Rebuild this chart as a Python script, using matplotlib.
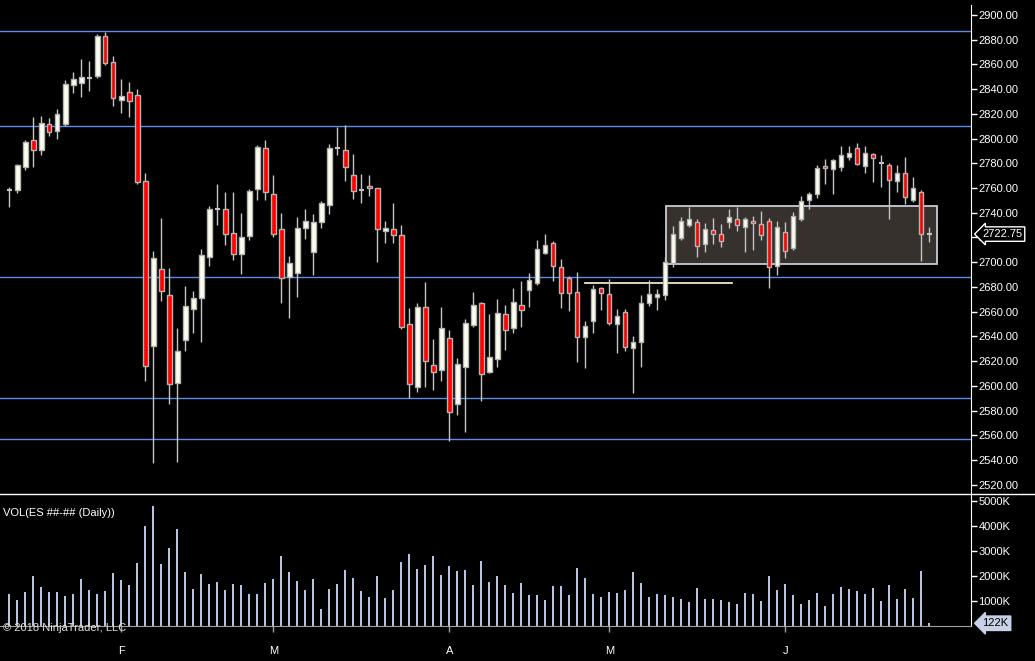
import numpy as np
import matplotlib
matplotlib.use("Agg")
import matplotlib.pyplot as plt
from matplotlib.patches import Rectangle
from matplotlib.lines import Line2D

plt.rcParams['font.family'] = ['Liberation Sans', 'DejaVu Sans']

# daily ES bars (Jan 11 .. Jun 22 2018)
opens = [2758.25, 2758.75, 2777.25, 2798.5, 2791.0, 2811.5, 2806.0, 2811.75, 2843.5, 2845.25,
         2849.0, 2851.0, 2883.0, 2861.75, 2831.5, 2837.5, 2835.0, 2765.5, 2632.5, 2694.25,
         2673.25, 2602.5, 2636.75, 2662.0, 2671.25, 2704.0, 2743.25, 2742.75, 2723.5, 2707.0,
         2721.5, 2759.5, 2792.25, 2755.0, 2726.5, 2687.75, 2691.5, 2727.5, 2708.5, 2732.25,
         2746.0, 2792.5, 2790.5, 2770.25, 2758.75, 2761.5, 2759.75, 2725.0, 2726.5, 2721.75,
         2649.75, 2598.75, 2663.5, 2616.5, 2613.0, 2638.5, 2585.0, 2615.5, 2649.5, 2666.75,
         2611.0, 2621.5, 2657.75, 2646.5, 2665.0, 2677.25, 2683.0, 2707.75, 2715.25, 2696.0,
         2687.0, 2675.5, 2639.25, 2652.25, 2679.0, 2674.0, 2649.75, 2659.5, 2630.25, 2635.25,
         2666.75, 2671.5, 2673.25, 2699.5, 2719.75, 2730.25, 2732.25, 2715.0, 2725.75, 2722.5,
         2732.25, 2734.75, 2728.25, 2733.0, 2730.75, 2733.0, 2696.75, 2724.25, 2711.25, 2734.75,
         2750.0, 2755.0, 2777.5, 2775.25, 2776.75, 2785.0, 2792.25, 2777.5, 2787.25, 2780.0,
         2778.5, 2765.5, 2772.0, 2750.0, 2756.5, 2722.75]
highs = [2761.0, 2779.5, 2799.0, 2817.5, 2818.0, 2816.75, 2824.0, 2847.25, 2854.0, 2864.5,
         2862.75, 2884.5, 2886.5, 2866.75, 2848.25, 2845.75, 2840.0, 2772.25, 2709.0, 2735.75,
         2695.25, 2646.75, 2680.75, 2676.75, 2710.75, 2745.5, 2763.25, 2756.75, 2756.75, 2739.75,
         2759.25, 2794.75, 2799.0, 2770.5, 2739.75, 2705.0, 2736.5, 2743.0, 2739.0, 2749.5,
         2795.5, 2809.5, 2811.0, 2787.25, 2771.0, 2770.25, 2759.75, 2733.25, 2748.0, 2730.0,
         2663.0, 2666.75, 2684.0, 2638.0, 2663.5, 2645.0, 2622.5, 2654.0, 2676.0, 2667.5,
         2658.0, 2670.25, 2665.5, 2679.0, 2684.75, 2691.25, 2717.75, 2722.75, 2717.0, 2702.25,
         2688.5, 2691.75, 2652.25, 2681.25, 2679.75, 2686.25, 2662.0, 2662.0, 2640.0, 2673.25,
         2685.5, 2678.25, 2704.5, 2729.25, 2736.5, 2744.75, 2734.75, 2731.5, 2735.5, 2731.0,
         2742.75, 2744.75, 2736.25, 2737.0, 2741.25, 2735.5, 2733.0, 2732.25, 2740.5, 2753.25,
         2756.5, 2778.5, 2783.25, 2783.5, 2793.75, 2793.75, 2796.25, 2793.75, 2788.0, 2786.5,
         2780.0, 2778.5, 2785.0, 2768.75, 2758.25, 2728.25]
lows = [2745.0, 2756.25, 2774.75, 2777.0, 2787.0, 2802.25, 2800.0, 2810.25, 2837.0, 2833.75,
        2838.75, 2849.25, 2859.75, 2826.5, 2820.75, 2817.5, 2763.5, 2604.0, 2537.75, 2668.5,
        2585.5, 2538.5, 2628.5, 2643.0, 2635.75, 2697.25, 2730.25, 2714.25, 2702.0, 2690.75,
        2718.25, 2750.5, 2750.5, 2720.5, 2667.25, 2655.0, 2672.0, 2719.0, 2690.0, 2728.0,
        2739.25, 2787.0, 2766.0, 2751.5, 2748.0, 2753.75, 2700.5, 2715.75, 2715.75, 2645.75,
        2590.0, 2594.75, 2599.25, 2596.75, 2604.0, 2555.5, 2576.5, 2563.0, 2647.75, 2588.0,
        2610.0, 2615.5, 2629.25, 2643.0, 2647.75, 2664.0, 2681.75, 2707.0, 2685.0, 2663.25,
        2660.75, 2619.5, 2614.5, 2643.0, 2661.5, 2649.0, 2626.75, 2628.0, 2594.5, 2615.5,
        2664.75, 2661.25, 2669.75, 2696.5, 2718.0, 2728.25, 2704.0, 2708.0, 2714.5, 2712.0,
        2728.0, 2725.0, 2708.0, 2709.5, 2717.75, 2679.0, 2689.5, 2703.25, 2709.5, 2733.0,
        2742.75, 2751.75, 2763.5, 2755.5, 2773.5, 2782.5, 2778.5, 2772.0, 2765.0, 2761.0,
        2735.25, 2757.0, 2746.75, 2749.0, 2700.75, 2716.5]
closes = [2758.25, 2778.5, 2797.0, 2791.0, 2812.5, 2805.0, 2819.75, 2844.0, 2848.0, 2849.5,
          2849.0, 2883.0, 2861.5, 2833.0, 2834.25, 2830.75, 2765.0, 2616.25, 2703.25, 2677.0,
          2601.75, 2628.0, 2664.25, 2670.75, 2705.5, 2742.75, 2743.25, 2722.5, 2707.0, 2720.0,
          2757.5, 2793.0, 2756.5, 2723.0, 2687.0, 2699.0, 2727.5, 2733.0, 2732.25, 2747.75,
          2792.25, 2792.5, 2776.75, 2757.5, 2758.75, 2760.0, 2726.5, 2727.5, 2721.75, 2647.25,
          2601.25, 2663.5, 2619.75, 2611.0, 2646.5, 2578.5, 2617.5, 2650.5, 2665.0, 2609.25,
          2623.0, 2658.75, 2645.0, 2667.5, 2661.0, 2685.5, 2710.5, 2713.75, 2696.75, 2674.75,
          2674.75, 2639.25, 2648.0, 2678.0, 2674.75, 2650.5, 2656.25, 2631.25, 2635.25, 2666.75,
          2674.0, 2674.0, 2700.0, 2722.5, 2733.0, 2734.75, 2713.0, 2726.5, 2722.5, 2717.0,
          2736.25, 2730.0, 2734.75, 2731.5, 2721.75, 2696.0, 2728.25, 2708.75, 2737.0, 2749.25,
          2755.0, 2776.0, 2776.0, 2782.5, 2786.5, 2788.0, 2779.25, 2788.0, 2784.0, 2780.0,
          2766.25, 2772.0, 2752.5, 2759.75, 2722.5, 2722.75]
volume_k = [1280, 1053, 1373, 2000, 1560, 1373, 1373, 1213, 1293, 1893,
            1453, 1293, 1413, 2133, 1853, 1653, 2533, 4013, 4813, 2493,
            3133, 3893, 2173, 1493, 2093, 1693, 1773, 1453, 1693, 1653,
            1293, 1293, 1733, 1893, 2813, 2173, 1813, 1453, 1893, 693,
            1493, 1693, 2253, 1933, 1413, 1173, 2013, 1133, 1453, 2573,
            2893, 2293, 2453, 2813, 2053, 2413, 2213, 2253, 1653, 2613,
            1773, 2013, 1653, 1333, 1733, 1253, 1253, 1053, 1613, 1613,
            1253, 2333, 1933, 1293, 1173, 1373, 1333, 1453, 2173, 1733,
            1173, 1293, 1253, 1173, 1093, 973, 1533, 1093, 1093, 1053,
            973, 893, 1333, 1293, 1013, 2013, 1453, 1693, 1253, 893,
            1053, 1333, 813, 1293, 1573, 1493, 1413, 1293, 1533, 1013,
            1653, 1093, 1493, 1133, 2213, 122]

# first bar of each month and its letter
month_bars = [14, 33, 55, 75, 97]
month_labels = ['F', 'M', 'A', 'M', 'J']

# drawn objects on the chart
levels = [2887.0, 2810.0, 2688.0, 2590.0, 2556.75]
ray_level = 2683.0
ray_from, ray_to = 72.0, 90.3
zone_from, zone_to = 82.1, 116.0
zone_low, zone_high = 2698.25, 2745.25

price_ticks = list(range(2520, 2901, 20))
vol_ticks = [1000, 2000, 3000, 4000, 5000]

o = np.array(opens); h = np.array(highs); l = np.array(lows); c = np.array(closes)
x = np.arange(len(o))

fig = plt.figure(figsize=(10.35, 6.61), dpi=100, facecolor='black')
W, H = 1035.0, 661.0
ax_right = 971.3 / W
ax = fig.add_axes([0, 1 - 493.5 / H, ax_right, (493.5 - 5) / H], facecolor='black')
axv = fig.add_axes([0, 1 - 626.3 / H, ax_right, (626.3 - 493.5) / H], facecolor='black')

xlim = (-9.3 / 8, (971.3 - 9.3) / 8)

# price panel
for lv in levels:
    ax.axhline(lv, color='#5c8ce6', lw=1, zorder=1)
ax.add_patch(Rectangle((zone_from, zone_low), zone_to - zone_from, zone_high - zone_low,
                       fc='#36312d', ec='#c8ccd6', lw=1.3, zorder=1.5))
ax.plot([ray_from, ray_to], [ray_level, ray_level], color='#fffbe0', lw=1.2, zorder=1.6)

ax.vlines(x, l, h, color='#c4c4c4', lw=1, zorder=2)
doji = np.abs(c - o) < 0.5
up = (c > o) & ~doji
dn = (c < o) & ~doji
ax.bar(x[up], (c - o)[up], bottom=o[up], width=0.55, color='#fffff0', edgecolor='#b4b4b4', lw=1, zorder=3)
ax.bar(x[dn], (o - c)[dn], bottom=c[dn], width=0.55, color='#ff0000', edgecolor='#b4b4b4', lw=1, zorder=3)
ax.hlines(c[doji], x[doji] - 0.33, x[doji] + 0.33, color='#c4c4c4', lw=1.5, zorder=3)

ax.set_xlim(*xlim)
ax.set_ylim(2900 - 478.5 / 1.236, 2900 + 10 / 1.236)
ax.yaxis.tick_right()
ax.set_yticks(price_ticks)
ax.set_yticklabels(['%.2f' % t for t in price_ticks])
ax.tick_params(axis='y', colors='white', labelcolor='white', labelsize=8, length=4.3, width=1, pad=0.8)
ax.set_xticks([])
for s in ['left', 'top', 'bottom']:
    ax.spines[s].set_visible(False)
ax.spines['right'].set_color('white')

ax.annotate('%.2f' % c[-1], xy=(1.0, c[-1]), xycoords=ax.get_yaxis_transform(),
            xytext=(8, 0), textcoords='offset points', ha='left', va='center',
            color='white', fontsize=8, zorder=10, annotation_clip=False,
            bbox=dict(boxstyle='larrow,pad=0.2', fc='black', ec='white', lw=1))

# volume panel
axv.bar(x, volume_k, width=0.25, color='#b6c5dd', zorder=2)
axv.set_xlim(*xlim)
axv.set_ylim(0, (626.3 - 493.5) / 25 * 1000)
axv.yaxis.tick_right()
axv.set_yticks(vol_ticks)
axv.set_yticklabels(['%dK' % v for v in vol_ticks])
axv.tick_params(axis='y', colors='white', labelcolor='white', labelsize=8, length=4.3, width=1, pad=0.8)
axv.set_xticks(month_bars)
axv.set_xticklabels(month_labels)
axv.tick_params(axis='x', colors='#a0a0a0', labelcolor='white', labelsize=8, length=4, width=1, pad=10)
for s in ['left', 'top']:
    axv.spines[s].set_visible(False)
axv.spines['right'].set_color('white')
axv.spines['bottom'].set_color('#a0a0a0')

axv.text(0.003, 0.85, 'VOL(ES ##-## (Daily))', transform=axv.transAxes, color='white',
         fontsize=8, ha='left', va='center')
axv.text(0.003, -0.01, '\u00a9 2018 NinjaTrader, LLC', transform=axv.transAxes, color='#e0e0e0',
         fontsize=8, ha='left', va='center', zorder=5)
axv.annotate('%dK' % volume_k[-1], xy=(1.0, volume_k[-1]), xycoords=axv.get_yaxis_transform(),
             xytext=(8, 0), textcoords='offset points', ha='left', va='center',
             color='black', fontsize=8, zorder=10, annotation_clip=False,
             bbox=dict(boxstyle='larrow,pad=0.2', fc='#c8d2e6', ec='#c8d2e6', lw=1))

fig.add_artist(Line2D([0, 1], [1 - 493.5 / H] * 2, transform=fig.transFigure, color='white', lw=1))

fig.savefig('out.png', dpi=100, facecolor='black')
